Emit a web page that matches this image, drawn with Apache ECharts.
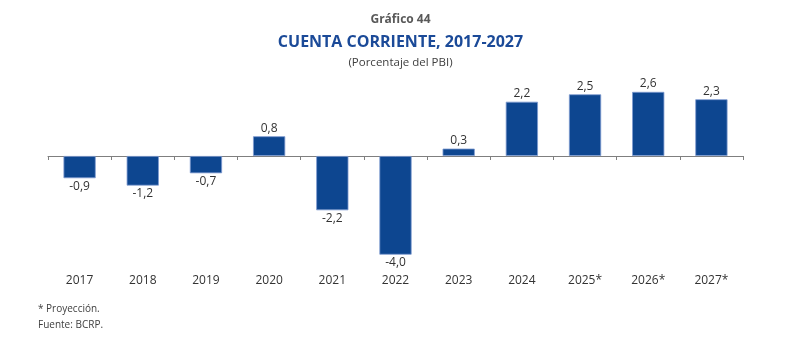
<!DOCTYPE html>
<html>
<head>
<meta charset="utf-8">
<script src="https://cdn.jsdelivr.net/npm/echarts@6/dist/echarts.min.js"></script>
<style>
  html, body { margin: 0; padding: 0; background: #ffffff; }
  #chart { width: 801px; height: 346px; }
</style>
</head>
<body>
<div id="chart"></div>
<script>
// Cuenta corriente de la balanza de pagos, % del PBI
const years = ['2017', '2018', '2019', '2020', '2021', '2022', '2023', '2024', '2025*', '2026*', '2027*'];
const cuentaCorriente = [-0.9, -1.2, -0.7, 0.8, -2.2, -4.0, 0.3, 2.2, 2.5, 2.6, 2.3];

const FONT = '"Open Sans", "Noto Sans", sans-serif';
const chart = echarts.init(document.getElementById('chart'), null, { renderer: 'canvas' });

chart.setOption({
  animation: false,
  backgroundColor: '#ffffff',
  title: [
    { text: 'Gráfico 44', left: 'center', top: 9,
      textStyle: { fontFamily: FONT, fontSize: 12, fontWeight: 'bold', color: '#595959' } },
    { text: 'CUENTA CORRIENTE, 2017-2027', left: 'center', top: 29,
      textStyle: { fontFamily: FONT, fontSize: 16, fontWeight: 'bold', color: '#1b4a98' } },
    { text: '(Porcentaje del PBI)', left: 'center', top: 52,
      textStyle: { fontFamily: FONT, fontSize: 11.5, fontWeight: 'normal', color: '#404040' } },
    { text: '* Proyección.\nFuente: BCRP.', left: 33, top: 296,
      textStyle: { fontFamily: FONT, fontSize: 10, fontWeight: 'normal', color: '#404040', lineHeight: 16 } }
  ],
  grid: { left: 48, right: 58, top: 82, bottom: 79 },
  xAxis: [
    {
      // zero line with tick marks between categories
      type: 'category',
      data: years,
      axisLine: { onZero: true, lineStyle: { color: '#7f7f7f', width: 1 } },
      axisTick: { show: true, length: 4, lineStyle: { color: '#7f7f7f' } },
      axisLabel: { show: false }
    },
    {
      // year labels along the bottom
      type: 'category',
      data: years,
      position: 'bottom',
      offset: 0,
      axisLine: { show: false },
      axisTick: { show: false },
      axisLabel: { margin: 8, fontFamily: FONT, fontSize: 12, color: '#333333' }
    }
  ],
  yAxis: {
    type: 'value',
    min: -4.5,
    max: 3,
    show: false,
    splitLine: { show: false }
  },
  series: [{
    type: 'bar',
    xAxisIndex: 0,
    // negative values carry their label below the bar
    data: cuentaCorriente.map(v => ({
      value: v,
      label: { position: v < 0 ? 'bottom' : 'top' }
    })),
    barWidth: '51%',
    itemStyle: { color: '#0d4690', borderColor: '#7f9ad0', borderWidth: 0.8 },
    label: {
      show: true,
      fontFamily: FONT,
      fontSize: 12,
      color: '#333333',
      distance: 2,
      formatter: p => p.value.toFixed(1).replace('.', ',')
    }
  }]
});
</script>
</body>
</html>
